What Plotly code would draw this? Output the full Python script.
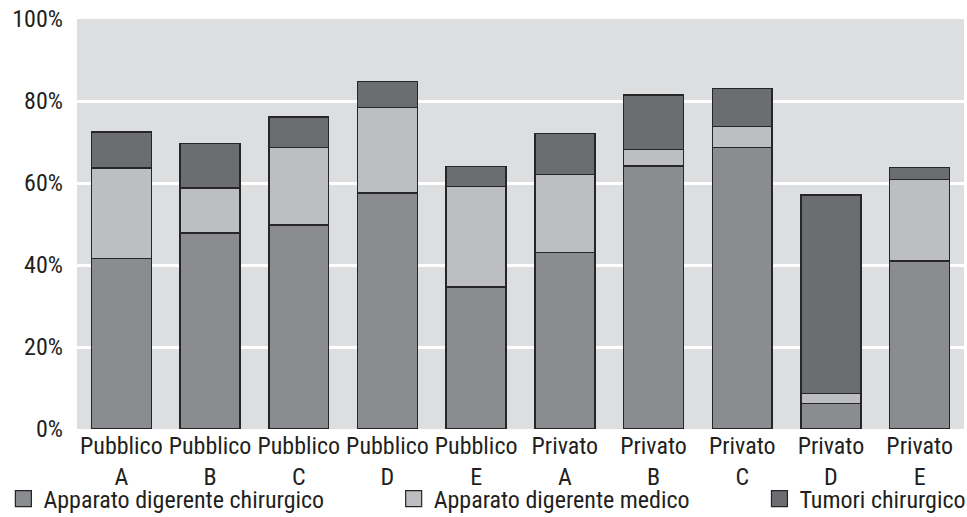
import plotly.graph_objects as go

# Categories (two-line tick labels) and stacked shares, in percent
categories = ["Pubblico<br>A", "Pubblico<br>B", "Pubblico<br>C", "Pubblico<br>D", "Pubblico<br>E",
              "Privato<br>A", "Privato<br>B", "Privato<br>C", "Privato<br>D", "Privato<br>E"]
digerente_chirurgico = [41.6, 47.8, 49.8, 57.6, 34.6, 43.1, 64.1, 68.7, 6.2, 41.0]
digerente_medico = [22.1, 11.0, 18.8, 20.8, 24.6, 19.0, 4.1, 5.1, 2.5, 19.8]
tumori_chirurgico = [8.7, 10.8, 7.5, 6.3, 4.8, 10.0, 13.3, 9.3, 48.4, 3.0]
y_ticks = [0, 20, 40, 60, 80, 100]
y_tick_labels = ["0%", "20%", "40%", "60%", "80%", "100%"]

FONT = "Liberation Sans Narrow, Arial Narrow, Roboto Condensed, Liberation Sans, sans-serif"
TEXT = "#231f20"
OUTLINE = "#262626"

series = [
    ("Apparato digerente chirurgico", digerente_chirurgico, "#8b8c90", "legend"),
    ("Apparato digerente medico", digerente_medico, "#bdbec1", "legend2"),
    ("Tumori chirurgico", tumori_chirurgico, "#6c6d71", "legend3"),
]

fig = go.Figure()
for name, values, color, leg in series:
    fig.add_trace(go.Bar(
        x=categories, y=values, name=name, showlegend=False,
        marker=dict(color=color, line=dict(color=OUTLINE, width=1.5)),
    ))
    # legend key: a larger outlined square than the default bar swatch
    fig.add_trace(go.Scatter(
        x=[None], y=[None], mode="markers", name=name, showlegend=True,
        marker=dict(symbol="square", size=16, color=color,
                    line=dict(color=OUTLINE, width=1.2)),
        legend=leg, hoverinfo="skip",
    ))

legend_common = dict(
    visible=True, orientation="h", yanchor="middle", y=-0.171, xanchor="left",
    bgcolor="rgba(0,0,0,0)", borderwidth=0, itemsizing="trace",
    font=dict(family=FONT, size=24, color=TEXT),
)

fig.update_layout(
    width=967, height=517,
    margin=dict(l=77, r=3, t=19, b=88, autoexpand=False),
    barmode="stack", bargap=0.324,
    showlegend=True,
    paper_bgcolor="white", plot_bgcolor="#dddee0",
    font=dict(family=FONT, size=24, color=TEXT),
    legend=dict(x=-0.083, **legend_common),
    legend2=dict(x=0.357, **legend_common),
    legend3=dict(x=0.7694, **legend_common),
    xaxis=dict(showgrid=False, showline=False, ticks="", automargin=False,
               ticklabelstandoff=0, tickfont=dict(size=24)),
    yaxis=dict(range=[0, 100], tickvals=y_ticks, ticktext=y_tick_labels,
               showgrid=True, gridcolor="white", gridwidth=2.5, automargin=False,
               zeroline=False, showline=False, ticks="", ticklabelstandoff=13,
               tickfont=dict(size=24)),
)

fig.write_html("out.html")
